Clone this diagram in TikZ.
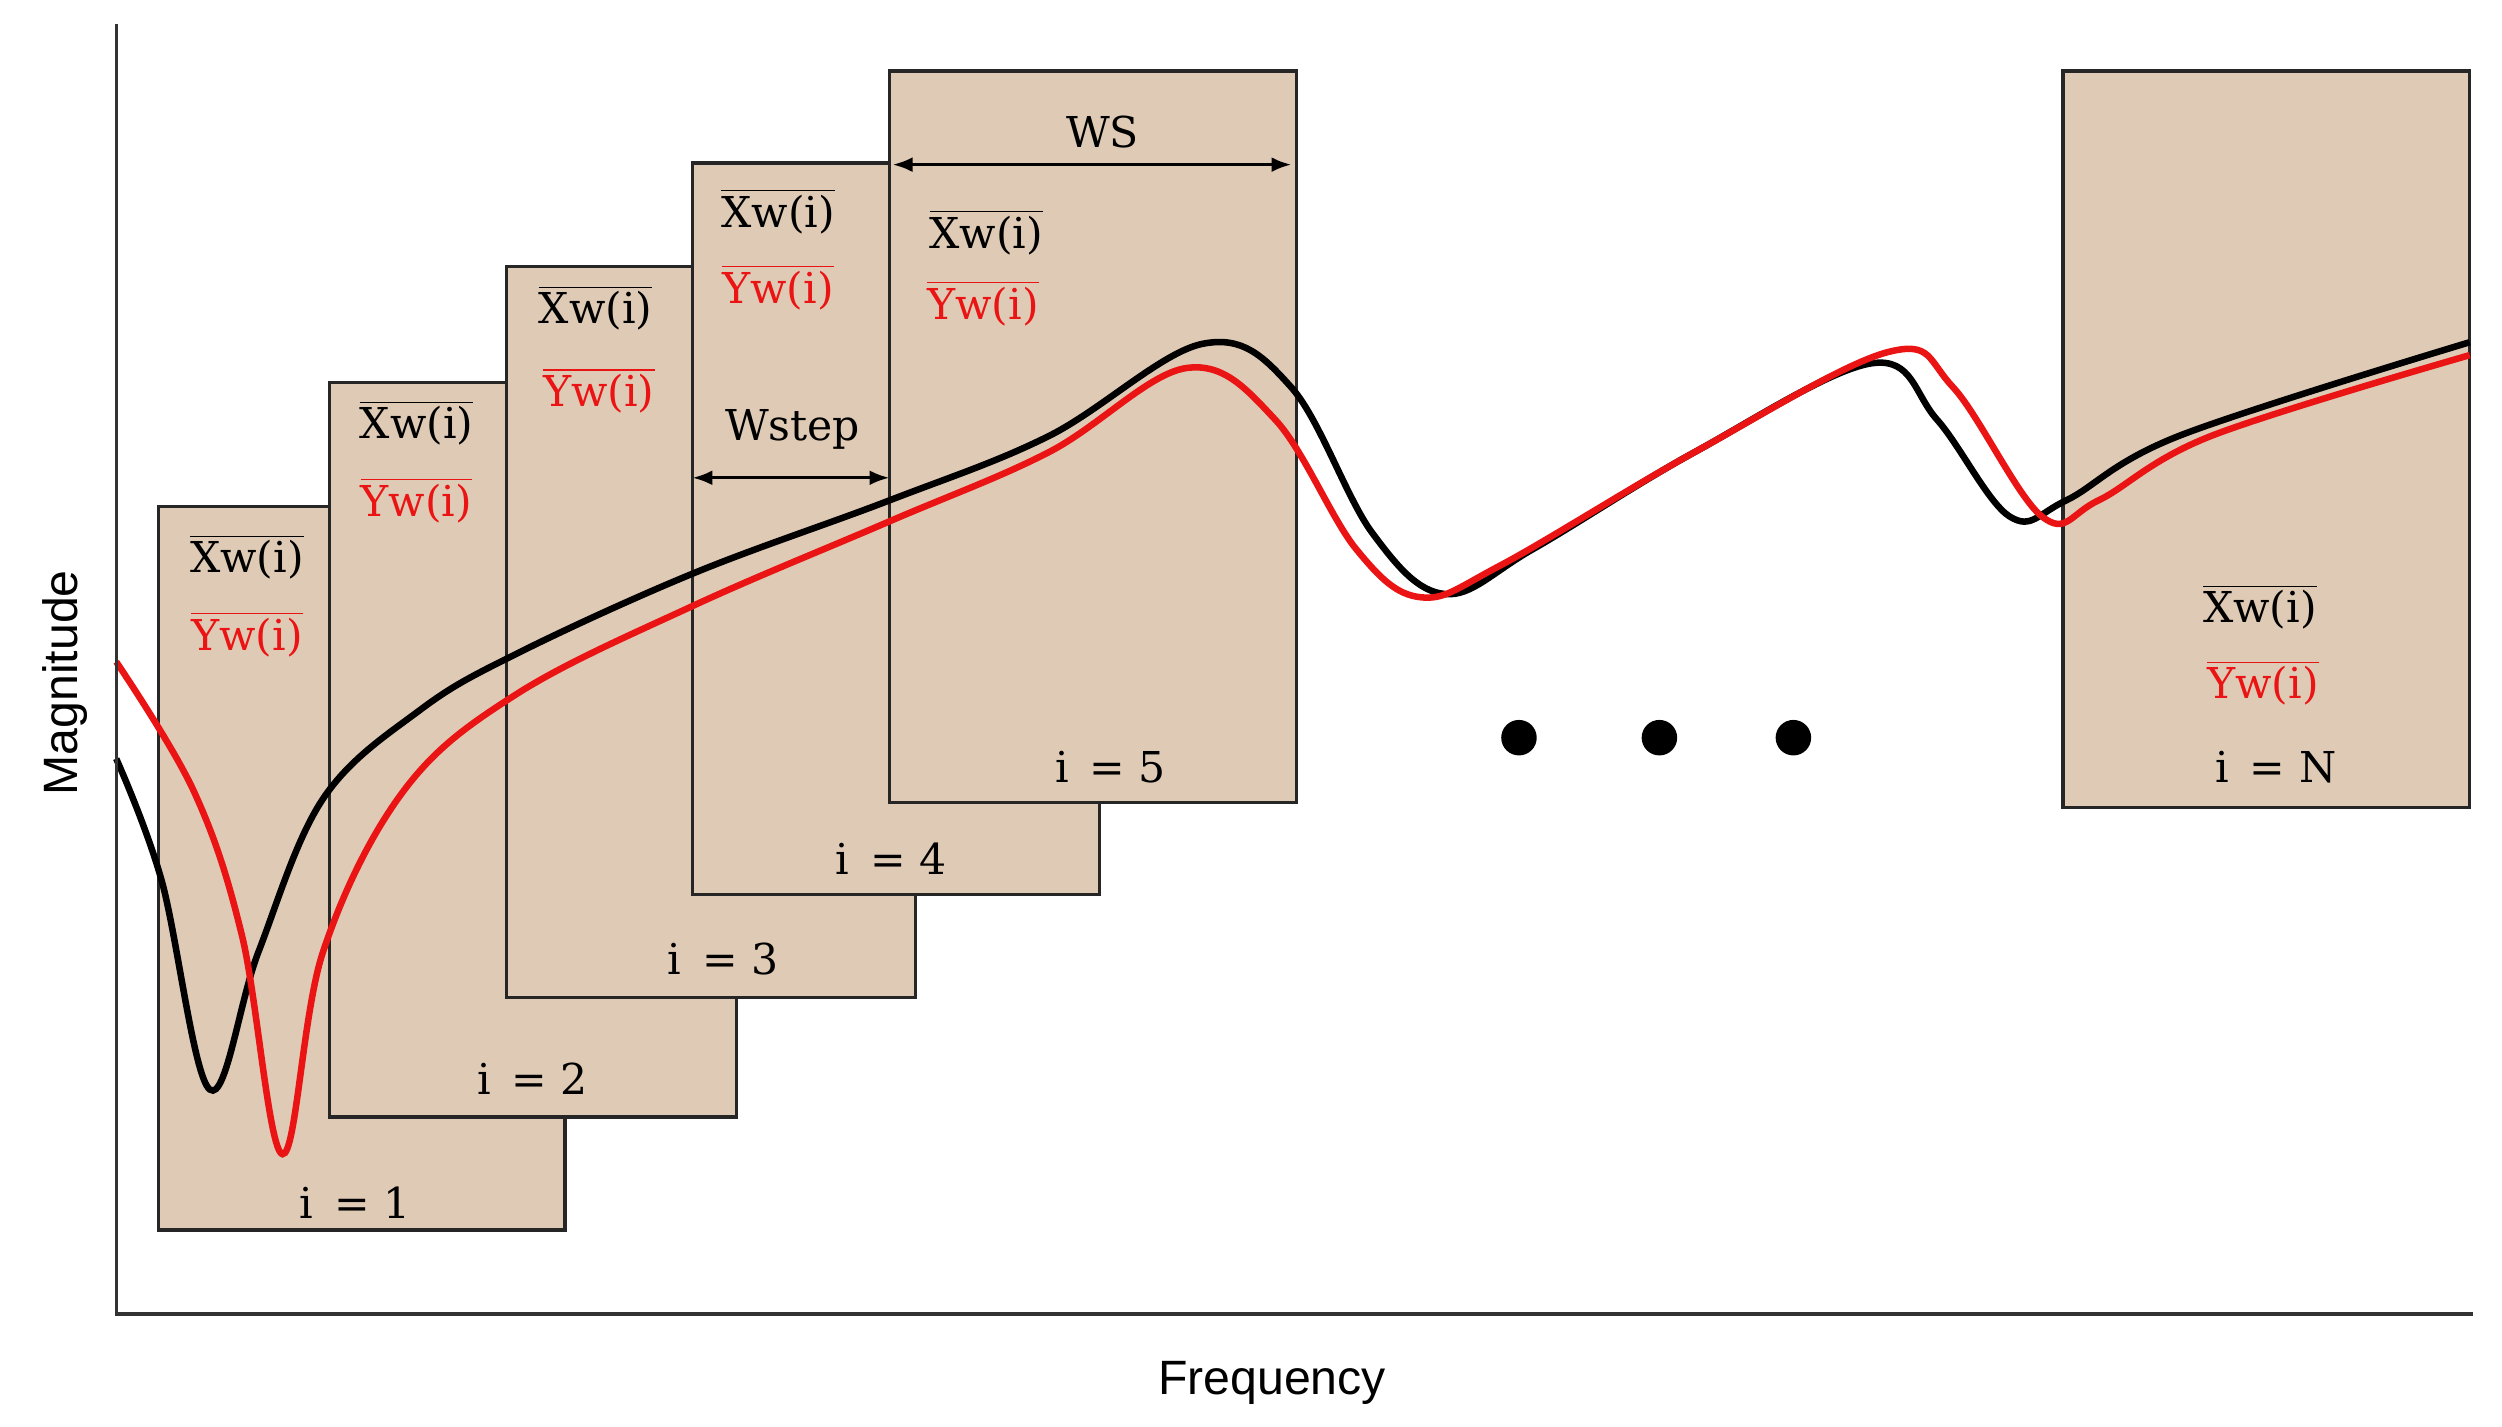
\documentclass[tikz,border=0pt]{standalone}
\usepackage{fontspec}
\setmainfont{DejaVu Serif}
\newfontfamily\axfont{Liberation Sans}
\usetikzlibrary{arrows.meta}
\definecolor{boxfill}{RGB}{223,203,181}
\definecolor{myred}{RGB}{235,20,20}
\begin{document}
\begin{tikzpicture}[x=0.02cm,y=-0.02cm,
  win/.style={draw=black!85,line width=1.1pt,fill=boxfill},
  lbl/.style={font=\fontsize{15}{17}\selectfont,inner sep=0pt},
  xl/.style={lbl},
  yl/.style={lbl,text=myred},
  dim/.style={line width=1.1pt,{Latex[length=7pt]}-{Latex[length=7pt]}}]
\useasboundingbox (0,0) rectangle (1550,884);
% windows
\foreach \n/\xa/\ya/\xb/\yb/\lx/\ly in {1/98/314/350/762/220/745, 2/204/237/456/692/330/668, 3/314/165/567/618/448/594, 4/429/101/681/554/552/532, 5/551/44/803/497/688/475}{
  \draw[win] (\xa,\ya) rectangle (\xb,\yb);
  \node[lbl] (L\n) at (\lx,\ly) {i \,= \n};
}
\draw[win] (1278,44) rectangle (1530,500);
\node[lbl] (LN) at (1410,475) {i \,= N};
% averages
\foreach \n/\xx/\xy/\yx/\yy in {1/153/345/153/393, 2/258/262/258/310, 3/369/191/371/242, 4/482/131/482/178, 5/611/144/609/188, N/1400/376/1402/423}{
  \node[xl] (X\n) at (\xx,\xy) {$\overline{\mbox{Xw(i)}}$};
  \node[yl] (Y\n) at (\yx,\yy) {$\overline{\mbox{Yw(i)}}$};
}
% dimension arrows
\coordinate (ws1) at (553,102); \coordinate (ws2) at (800,102);
\draw[dim] (ws1) -- (ws2);
\node[lbl] (WS) at (683,82) {WS};
\coordinate (st1) at (429,296); \coordinate (st2) at (551,296);
\draw[dim] (st1) -- (st2);
\node[lbl] (Wstep) at (491,266) {Wstep};
% curves
\draw[black,line width=2.3pt] plot[smooth,tension=0.6] coordinates {(72,470) (100,545) (130,675) (160,590) (200,495) (260,440) (320,405) (430,355) (551,310) (650,270) (745,213) (800,240) (850,330) (895,368) (950,340) (1050,280) (1160,225) (1200,260) (1245,320) (1280,310) (1350,270) (1530,212)};
\draw[myred,line width=2.3pt] plot[smooth,tension=0.6] coordinates {(72,410) (120,490) (150,580) (175,715) (200,590) (250,490) (320,430) (430,375) (551,323) (650,280) (735,228) (790,260) (840,340) (880,370) (930,350) (1050,280) (1170,218) (1210,240) (1265,320) (1300,310) (1370,270) (1530,220)};
% dots
\foreach \x/\k in {941/a,1028/b,1111/c}{\fill (\x,457) circle (11);}
% axes
\coordinate (O) at (72,814); \coordinate (T) at (72,15); \coordinate (R) at (1532,814);
\draw[line width=1.2pt,black!80] (T) -- (O) -- (R);
\node[font=\axfont\fontsize{17}{19}\selectfont,rotate=90] (mag) at (40,423) {Magnitude};
\node[font=\axfont\fontsize{17}{19}\selectfont] (freq) at (788,857) {Frequency};
\end{tikzpicture}
\end{document}
